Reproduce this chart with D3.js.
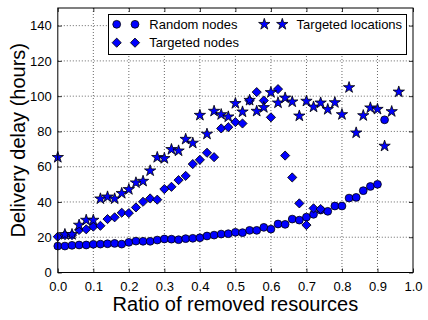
<!DOCTYPE html>
<html><head><meta charset="utf-8">
<script src="https://cdn.jsdelivr.net/npm/d3@7"></script>
<style>body{margin:0;background:#fff}svg{display:block}text{font-family:"Liberation Sans",Arial,sans-serif}</style>
</head><body>
<svg id="c" width="428" height="320"></svg>
<script>
const xTicks = [0,0.1,0.2,0.3,0.4,0.5,0.6,0.7,0.8,0.9,1.0];
const yTicks = [0,20,40,60,80,100,120,140];
const seriesNames = ["Random nodes","Targeted nodes","Targeted locations"];

const randomX = [0,0.02,0.04,0.06,0.08,0.10,0.12,0.14,0.16,0.18,0.20,0.22,0.24,0.26,0.28,0.30,0.32,0.34,0.36,0.38,0.40,0.42,0.44,0.46,0.48,0.50,0.52,0.54,0.56,0.58,0.60,0.62,0.64,0.66,0.68,0.70,0.72,0.74,0.76,0.78,0.80,0.82,0.84,0.86,0.88,0.90,0.92];
const randomY = [15.0,15.0,15.4,15.6,15.6,16.0,16.1,16.3,16.5,16.1,17.1,17.8,17.7,17.7,18.4,19.0,18.9,18.6,19.2,19.4,19.7,20.7,21.2,21.8,22.0,22.8,22.6,23.9,23.9,25.6,24.6,27.5,27.3,30.3,29.7,31.4,33.0,35.4,34.7,37.7,37.7,42.2,42.6,46.4,48.8,50.0,86.6];

const targetedX = [0,0.02,0.04,0.06,0.08,0.10,0.12,0.14,0.16,0.18,0.20,0.22,0.24,0.26,0.28,0.30,0.32,0.34,0.36,0.38,0.40,0.42,0.44,0.46,0.48,0.50,0.52,0.54,0.56,0.58,0.60,0.62,0.64,0.66,0.68,0.70,0.72,0.74];
const targetedY = [20.3,21.2,21.2,24.1,24.5,26.0,26.5,30.3,31.3,33.9,33.7,36.9,40.1,42.0,41.3,47.3,48.6,52.4,54.8,61.5,63.9,67.9,65.4,81.7,82.4,85.3,84.5,97.5,102.3,97.5,88.0,104.0,66.3,53.9,39.2,26.9,36.4,36.0];

const locX = [0,0.02,0.04,0.06,0.08,0.10,0.12,0.14,0.16,0.18,0.20,0.22,0.24,0.26,0.28,0.30,0.32,0.34,0.36,0.38,0.40,0.42,0.44,0.46,0.48,0.50,0.52,0.54,0.56,0.58,0.60,0.62,0.64,0.66,0.68,0.70,0.72,0.74,0.76,0.78,0.80,0.82,0.84,0.86,0.88,0.90,0.92,0.94,0.96];
const locY = [65.3,21.6,21.6,26.9,29.7,29.7,41.8,42.9,41.8,44.9,47.1,50.9,51.8,57.7,65.3,64.7,69.8,69.0,75.6,73.4,89.2,78.5,91.5,89.6,88.3,95.9,91.1,97.7,91.5,93.6,102.1,96.2,99.0,96.8,88.8,97.2,93.9,96.2,92.5,96.4,89.6,104.9,79.2,89.0,93.4,92.6,71.7,91.3,102.4];

const svg = d3.select("#c");
const L = 57.8, R = 413, T = 8, B = 272.5;
const x = d3.scaleLinear().domain([0,1]).range([L,R]);
const y = d3.scaleLinear().domain([0,150]).range([B,T]);

// grid
const g = svg.append("g");
g.selectAll(".gx").data(xTicks.slice(1,-1)).join("line")
  .attr("x1",d=>x(d)).attr("x2",d=>x(d)).attr("y1",T).attr("y2",B)
  .attr("stroke","#000").attr("stroke-width",0.6).attr("stroke-dasharray","1,2");
g.selectAll(".gy").data(yTicks.slice(1)).join("line")
  .attr("y1",d=>y(d)).attr("y2",d=>y(d)).attr("x1",L).attr("x2",R)
  .attr("stroke","#000").attr("stroke-width",0.6).attr("stroke-dasharray","1,2");

// axes (ticks inward)
const fontSize = 13;
const xAxisB = d3.axisBottom(x).tickValues(xTicks).tickFormat(d3.format(".1f")).tickSizeInner(-4).tickSizeOuter(0).tickPadding(9);
const xAxisT = d3.axisTop(x).tickValues(xTicks).tickFormat("").tickSizeInner(-4).tickSizeOuter(0);
const yAxisL = d3.axisLeft(y).tickValues(yTicks).tickFormat(d3.format("d")).tickSizeInner(-4).tickSizeOuter(0).tickPadding(6);
const yAxisR = d3.axisRight(y).tickValues(yTicks).tickFormat("").tickSizeInner(-4).tickSizeOuter(0);
function style(sel){
  sel.select(".domain").remove();
  sel.selectAll("line").attr("stroke","#000").attr("stroke-width",0.8);
  sel.selectAll("text").attr("font-size",fontSize).attr("fill","#000").style("font-family","'Liberation Sans',Arial,sans-serif");
}
svg.append("g").attr("transform",`translate(0,${B})`).call(xAxisB).call(style);
svg.append("g").attr("transform",`translate(0,${T})`).call(xAxisT).call(style);
svg.append("g").attr("transform",`translate(${L},0)`).call(yAxisL).call(style);
svg.append("g").attr("transform",`translate(${R},0)`).call(yAxisR).call(style);

// data
const circ = d3.symbol(d3.symbolCircle, 48);
const diam = d3.symbol(d3.symbolSquare, 42);
const star = d3.symbol(d3.symbolStar, 40);
const mk = (sel)=>sel.attr("fill","#0000ff").attr("stroke","#000").attr("stroke-width",0.8);

const randomData = randomX.map((v,i)=>({x:v,y:randomY[i]}));
const targetedData = targetedX.map((v,i)=>({x:v,y:targetedY[i]}));
const locData = locX.map((v,i)=>({x:v,y:locY[i]}));

const pts = svg.append("g");
pts.selectAll(".r").data(randomData).join("path").attr("d",circ)
  .attr("transform",d=>`translate(${x(d.x)},${y(d.y)})`).call(mk);
pts.selectAll(".t").data(targetedData).join("path").attr("d",diam)
  .attr("transform",d=>`translate(${x(d.x)},${y(d.y)}) rotate(45)`).call(mk);
pts.selectAll(".s").data(locData).join("path").attr("d",star)
  .attr("transform",d=>`translate(${x(d.x)},${y(d.y)})`).call(mk);

// frame
svg.append("rect").attr("x",L).attr("y",T).attr("width",R-L).attr("height",B-T)
  .attr("fill","none").attr("stroke","#000").attr("stroke-width",1);

// legend
const lg = svg.append("g");
lg.append("rect").attr("x",108.5).attr("y",14.5).attr("width",298).attr("height",40)
  .attr("fill","#fff").attr("stroke","#000").attr("stroke-width",1);
const legendItems = [
  {name:seriesNames[0], sym:circ, rot:0, mx:[116.7,135], ty:24.3},
  {name:seriesNames[1], sym:diam, rot:45, mx:[116.7,135], ty:42.7},
  {name:seriesNames[2], sym:star, rot:0, mx:[264.3,282.3], ty:24.3}
];
legendItems.forEach(it=>{
  it.mx.forEach(mx=>{
    lg.append("path").attr("d",it.sym).attr("transform",`translate(${mx},${it.ty}) rotate(${it.rot})`).call(mk);
  });
  lg.append("text").attr("x",it.mx[1]+14.3).attr("y",it.ty).attr("dy","0.35em")
    .attr("font-size",fontSize).text(it.name);
});

// axis labels
svg.append("text").attr("x",(L+R)/2).attr("y",311).attr("text-anchor","middle")
  .attr("font-size",20).text("Ratio of removed resources");
svg.append("text").attr("transform",`translate(24.5,${(T+B)/2}) rotate(-90)`).attr("text-anchor","middle")
  .attr("font-size",20).text("Delivery delay (hours)");
</script>
</body></html>
